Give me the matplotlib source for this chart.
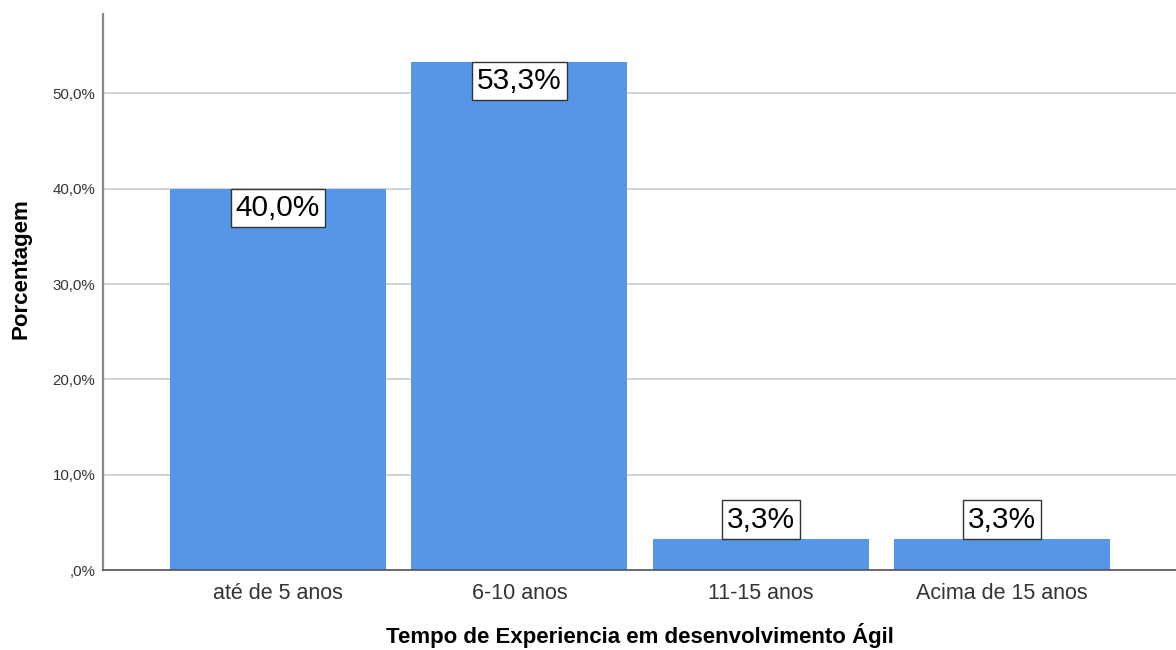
import matplotlib
matplotlib.use("Agg")
import matplotlib.pyplot as plt
from matplotlib.ticker import FuncFormatter

plt.rcParams['font.family'] = ['Liberation Sans', 'DejaVu Sans']

categories = ["até de 5 anos", "6-10 anos", "11-15 anos", "Acima de 15 anos"]
percentages = [40.0, 53.3, 3.3, 3.3]
y_ticks = [0, 10, 20, 30, 40, 50]


def pct(v):
    s = ("%.1f%%" % v).replace(".", ",")
    return s[1:] if s.startswith("0,") else s


fig = plt.figure(figsize=(11.76, 6.5), dpi=100)
ax = fig.add_axes([0.0876, 0.123, 0.9124, 0.855])

x = list(range(len(categories)))
ax.bar(x, percentages, width=0.895, color="#5596E6", zorder=2)

ax.set_xlim(-0.725, 3.72)
ax.set_ylim(0, 58.3)
ax.set_yticks(y_ticks)
ax.yaxis.set_major_formatter(FuncFormatter(lambda v, p: pct(v)))
ax.set_xticks(x)
ax.set_xticklabels(categories, fontsize=15.5, color="#333333")
ax.tick_params(axis="y", labelsize=10.8, colors="#333333", length=0, pad=5.5)
ax.tick_params(axis="x", length=0, pad=9)

ax.grid(axis="y", color="#d4d4d4", linewidth=1.4, zorder=0)
ax.set_axisbelow(True)
for s in ("top", "right"):
    ax.spines[s].set_visible(False)
ax.spines["left"].set_color("#8c8c8c")
ax.spines["left"].set_linewidth(1.6)
ax.spines["bottom"].set_color("#555555")
ax.spines["bottom"].set_linewidth(1.2)

ax.set_xlabel("Tempo de Experiencia em desenvolvimento Ágil", fontsize=16,
              fontweight="bold")
ax.set_ylabel("Porcentagem", fontsize=16, fontweight="bold")
ax.xaxis.set_label_coords(0.5, -0.095)
ax.yaxis.set_label_coords(-0.067, 0.543)

fs = 21.5
pad = 0.17
for xi, v in zip(x, percentages):
    inside = v > 10
    off = -pad * fs if inside else pad * fs
    ax.annotate(pct(v), (xi, v), xytext=(0, off), textcoords="offset points",
                ha="center", va="top" if inside else "bottom", fontsize=fs,
                color="black", zorder=4,
                bbox=dict(boxstyle="square,pad=%.2f" % pad, fc="white",
                          ec="#333333", lw=1.0))

fig.savefig("out.png", dpi=100)
